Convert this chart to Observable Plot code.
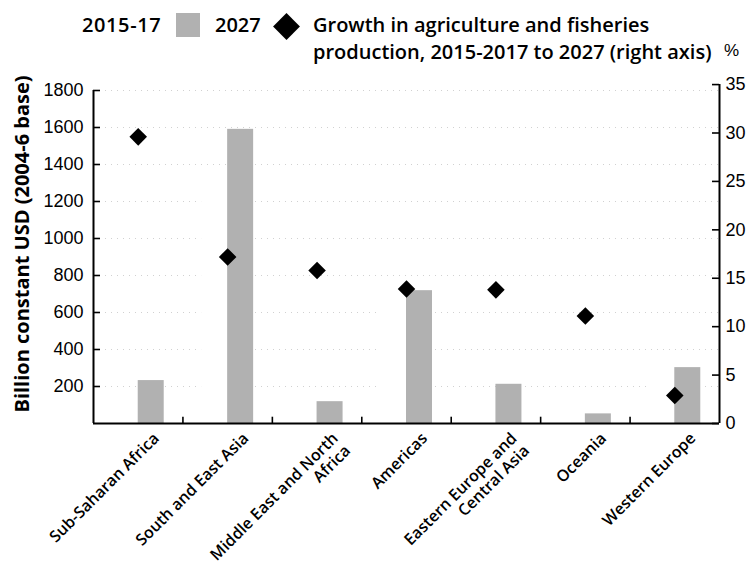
<!DOCTYPE html>
<html>
<head>
<meta charset="utf-8">
<script src="https://cdn.jsdelivr.net/npm/d3@7"></script>
<script src="https://cdn.jsdelivr.net/npm/@observablehq/plot@0.6"></script>
<style>
  html, body { margin: 0; padding: 0; background: #fff; }
  #legend { position: relative; width: 751px; height: 62px; font-family: "Open Sans", sans-serif; font-weight: 600; font-size: 20px; color: #000; }
  #legend span, #legend div { position: absolute; }
  .lt { line-height: 27px; white-space: nowrap; }
</style>
</head>
<body>
<div id="legend"></div>
<div id="chart"></div>
<script>
// ---- data ----
const regions = ["Sub-Saharan Africa", "South and East Asia", "Middle East and North Africa", "Americas", "Eastern Europe and Central Asia", "Oceania", "Western Europe"];
const regionLabels = ["Sub-Saharan Africa", "South and East Asia", "Middle East and North\nAfrica", "Americas", "Eastern Europe and\nCentral Asia", "Oceania", "Western Europe"];
const value2015 = [180, 1355, 100, 630, 185, 46, 292];   // 2015-17 (drawn white in the original)
const value2027 = [232, 1590, 118, 718, 212, 52, 302];   // 2027
const growth = [29.6, 17.2, 15.8, 13.9, 13.8, 11.1, 2.9]; // % growth, right axis
const leftTicks = [200, 400, 600, 800, 1000, 1200, 1400, 1600, 1800];
const rightTicks = [0, 5, 10, 15, 20, 25, 30, 35];
const seriesNames = ["2015-17", "2027"];
const legendGrowth = ["Growth in agriculture and fisheries", "production, 2015-2017 to 2027 (right axis)"];
const yLabel = "Billion constant USD (2004-6 base)";
const rightUnit = "%";

// ---- layout ----
const W = 751, H = 507;
const mL = 93, mR = 32, mT = 28, mB = 146;
const bw = (W - mL - mR) / regions.length;
const barW = 26;
const K = 1832 / 35; // right-axis value -> left-axis units
const barColor = "#b1b1b1";

const rows = regions.map((r, i) => ({region: r, label: regionLabels[i], v2015: value2015[i], v2027: value2027[i], growth: growth[i]}));

// ---- legend ----
const lg = document.getElementById("legend");
lg.innerHTML = `
  <span class="lt" style="left:82px;top:11px;letter-spacing:0.6px">${seriesNames[0]}</span>
  <div style="left:176px;top:13px;width:24px;height:24px;background:${barColor}"></div>
  <span class="lt" style="left:215px;top:11px">${seriesNames[1]}</span>
  <div style="left:277px;top:17px;width:19px;height:19px;background:#000;transform:rotate(45deg)"></div>
  <span class="lt" style="left:313px;top:11px">${legendGrowth[0]}<br>${legendGrowth[1]}</span>
  <span style="left:724px;top:41px;font-family:'Liberation Sans';font-weight:400;font-size:17px;line-height:20px">${rightUnit}</span>
`;

const chart = Plot.plot({
  width: W, height: H,
  marginLeft: mL, marginRight: mR, marginTop: mT, marginBottom: mB,
  x: {type: "band", domain: regions, padding: 0, round: false, axis: null},
  y: {domain: [0, 1800], axis: null},
  marks: [
    Plot.ruleY(leftTicks, {y: d => d, stroke: "#999", strokeOpacity: 0.45, strokeDasharray: "1,5"}),
    Plot.barY(rows, {x: "region", y1: 0, y2: "v2015", fill: "white", insetLeft: bw / 2 - barW, insetRight: bw / 2}),
    Plot.barY(rows, {x: "region", y1: 0, y2: "v2027", fill: barColor, insetLeft: bw / 2, insetRight: bw / 2 - barW}),
    // tick labels
    Plot.text(leftTicks, {y: d => d, text: d => String(d), frameAnchor: "left", textAnchor: "end", dx: -10, fontFamily: "Liberation Sans", fontSize: 18, fill: "#000"}),
    Plot.text(rightTicks, {y: d => d * K, text: d => String(d), frameAnchor: "right", textAnchor: "start", dx: 6, fontFamily: "Liberation Sans", fontSize: 18, fill: "#000"}),
    // category labels
    Plot.text(rows, {x: "region", text: "label", frameAnchor: "bottom", rotate: -45, textAnchor: "end", lineAnchor: "top", dx: 13, dy: 7, fontFamily: "Open Sans", fontWeight: 600, fontSize: 16, lineHeight: 1.1, fill: "#000"}),
    Plot.text([yLabel], {frameAnchor: "left", textAnchor: "middle", lineAnchor: "middle", dx: -71, dy: -13, rotate: -90, fontFamily: "Open Sans", fontWeight: 700, fontSize: 20, fill: "#000"}),
    // axis lines (rules are centred on the band, so shift by half a band)
    Plot.ruleX([regions[0]], {x: d => d, y1: 0, y2: 1800, stroke: "#000", strokeWidth: 2, dx: -bw / 2}),
    Plot.ruleX([regions[regions.length - 1]], {x: d => d, y1: 0, y2: 35 * K, stroke: "#000", strokeWidth: 2, dx: bw / 2}),
    // inward ticks on the left and right axes
    Plot.tickY(leftTicks, {x: () => regions[0], y: d => d, stroke: "#000", strokeWidth: 1.6, insetRight: bw - 7}),
    Plot.tickY(rightTicks, {x: () => regions[regions.length - 1], y: d => d * K, stroke: "#000", strokeWidth: 1.6, insetLeft: bw - 7}),
    // band boundary ticks on the baseline
    Plot.ruleX(regions.slice(1), {x: d => d, y1: 0, y2: 34, stroke: "#000", strokeWidth: 1.6, dx: -bw / 2}),
    Plot.ruleY([0], {stroke: "#000", strokeWidth: 2}),
    Plot.dot(rows, {x: "region", y: d => d.growth * K, symbol: "square", rotate: 45, r: 7, fill: "#000"})
  ]
});
document.getElementById("chart").appendChild(chart);
</script>
</body>
</html>
